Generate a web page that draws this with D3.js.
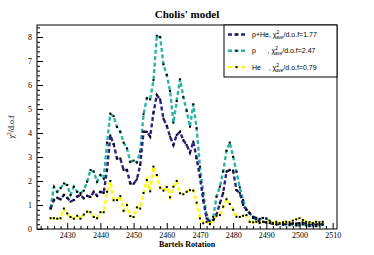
<!DOCTYPE html>
<html>
<head>
<meta charset="utf-8">
<script src="https://cdn.jsdelivr.net/npm/d3@7"></script>
<style>
  html, body { margin: 0; padding: 0; background: #fff; }
  svg { display: block; }
</style>
</head>
<body>
<div id="chart"></div>
<script>
// data (Bartels rotations 2425..2507)
const rotations = d3.range(2425, 2508);

const pHe = [0.85, 1.21, 1.3, 1.24, 1.42, 1.3, 1.14, 1.21, 1.35, 1.42,
  1.28, 1.38, 1.33, 1.55, 1.38, 1.55, 1.5, 2.46, 3.9, 3.54,
  2.94, 2.94, 2.46, 2.46, 1.9, 1.88, 2.07, 2.67, 4.05, 4.05,
  3.85, 4.85, 5.58, 5.4, 4.6, 4.3, 3.85, 3.5, 3.92, 4.05,
  3.7, 3.5, 3.18, 3.64, 2.94, 2.18, 1.2, 0.44, 0.3, 0.37,
  0.6, 1.07, 1.5, 2.39, 2.46, 2.43, 1.62, 1.5, 1.0, 0.8,
  0.66, 0.51, 0.46, 0.3, 0.3, 0.28, 0.25, 0.22, 0.2, 0.22,
  0.2, 0.22, 0.2, 0.25, 0.22, 0.25, 0.28, 0.22, 0.2, 0.22,
  0.2, 0.22, 0.2];

const pOnly = [0.86, 1.76, 1.55, 1.7, 1.9, 1.83, 1.42, 1.76, 1.55, 1.5,
  1.6, 1.97, 2.46, 2.39, 1.97, 2.25, 2.1, 3.6, 4.8, 4.7,
  4.25, 4.05, 3.6, 3.36, 2.8, 2.85, 2.77, 3.22, 4.78, 5.45,
  5.4, 6.2, 8.05, 8.0, 6.86, 6.42, 5.75, 4.43, 5.33, 6.24,
  5.49, 4.93, 4.26, 5.2, 4.2, 2.6, 1.49, 0.58, 0.24, 0.5,
  1.35, 1.76, 2.4, 3.26, 3.6, 3.01, 2.39, 1.74, 1.21, 0.8,
  0.66, 0.46, 0.4, 0.42, 0.46, 0.44, 0.3, 0.25, 0.2, 0.22,
  0.18, 0.2, 0.16, 0.2, 0.15, 0.15, 0.2, 0.15, 0.12, 0.15,
  0.12, 0.15, 0.18];

const heOnly = [0.45, 0.45, 0.43, 0.45, 0.85, 0.65, 0.5, 0.43, 0.55, 0.43,
  0.6, 0.72, 0.7, 0.5, 0.45, 0.7, 0.7, 1.55, 2.0, 1.2,
  1.2, 1.37, 0.76, 1.0, 0.54, 0.5, 0.9, 0.85, 1.5, 2.04,
  1.57, 2.6, 2.25, 1.72, 1.6, 1.75, 1.32, 1.76, 2.0, 1.49,
  1.45, 1.55, 1.62, 1.6, 1.1, 0.44, 0.24, 0.3, 0.2, 0.37,
  0.55, 0.58, 0.93, 1.24, 1.04, 0.8, 0.51, 0.5, 0.55, 0.58,
  0.3, 0.28, 0.3, 0.25, 0.3, 0.28, 0.35, 0.25, 0.3, 0.25,
  0.28, 0.3, 0.28, 0.35, 0.4, 0.45, 0.38, 0.3, 0.28, 0.25,
  0.3, 0.28, 0.3];

const seriesNames = ["p+He", "p", "He"];
const seriesChi = ["1.77", "2.47", "0.79"];
const xTicks = [2430, 2440, 2450, 2460, 2470, 2480, 2490, 2500, 2510];
const yTicks = [0, 1, 2, 3, 4, 5, 6, 7, 8];

// style
const W = 374, H = 255;
const COLORS = ["#2c2383", "#2cb3a2", "#ffff00"];
const SERIF = "'Liberation Serif', 'DejaVu Serif', serif";
const SANS = "'Liberation Sans', Arial, sans-serif";
const M = { left: 37, right: 337, top: 25, bottom: 229 };

const svg = d3.select("#chart").append("svg")
  .attr("width", W).attr("height", H);

const x = d3.scaleLinear().domain([2420.9, 2511.3]).range([M.left, M.right]);
const y = d3.scaleLinear().domain([0, 8.5]).range([M.bottom, M.top]);

// title
svg.append("text")
  .attr("x", 187).attr("y", 17.5)
  .attr("text-anchor", "middle")
  .attr("font-family", SERIF).attr("font-weight", "bold").attr("font-size", 11)
  .text("Cholis' model");

// series
const all = [pHe, pOnly, heOnly];
const line = d3.line()
  .x((d, i) => x(rotations[i]))
  .y(d => y(d));

// draw order: p first, then p+He, then He on top
[1, 0, 2].forEach(k => {
  const g = svg.append("g");
  g.append("path")
    .datum(all[k])
    .attr("d", line)
    .attr("fill", "none")
    .attr("stroke", COLORS[k])
    .attr("stroke-width", 2.4)
    .attr("stroke-dasharray", "4,2.5");
  g.selectAll("rect")
    .data(all[k])
    .enter().append("rect")
    .attr("x", (d, i) => x(rotations[i]) - 1)
    .attr("y", d => y(d) - 1)
    .attr("width", 2).attr("height", 2)
    .attr("fill", "#000");
});

// frame
svg.append("rect")
  .attr("x", M.left).attr("y", M.top)
  .attr("width", M.right - M.left).attr("height", M.bottom - M.top)
  .attr("fill", "none").attr("stroke", "#000").attr("stroke-width", 1);

// x axis (ticks inside)
const xMinor = d3.range(2422, 2512, 2).filter(v => v % 10 !== 0);
svg.append("g")
  .attr("transform", `translate(0,${M.bottom})`)
  .call(d3.axisBottom(x).tickValues(xMinor).tickSize(-3).tickFormat(""))
  .call(g => g.select(".domain").remove());
const xAx = svg.append("g")
  .attr("transform", `translate(0,${M.bottom})`)
  .call(d3.axisBottom(x).tickValues(xTicks).tickSize(-6).tickPadding(3).tickFormat(d3.format("d")));
xAx.select(".domain").remove();
xAx.selectAll("text").attr("font-family", SERIF).attr("font-size", 8).attr("fill", "#000");

// y axis (ticks inside)
const yMinor = d3.range(0, 8.5, 0.2).filter(v => Math.abs(v - Math.round(v)) > 0.01);
svg.append("g")
  .attr("transform", `translate(${M.left},0)`)
  .call(d3.axisLeft(y).tickValues(yMinor).tickSize(-3).tickFormat(""))
  .call(g => g.select(".domain").remove());
const yAx = svg.append("g")
  .attr("transform", `translate(${M.left},0)`)
  .call(d3.axisLeft(y).tickValues(yTicks).tickSize(-6).tickPadding(5).tickFormat(d3.format("d")));
yAx.select(".domain").remove();
yAx.selectAll("text").attr("font-family", SERIF).attr("font-size", 8).attr("fill", "#000");

// axis titles
svg.append("text")
  .attr("x", 187).attr("y", 246.5)
  .attr("text-anchor", "middle")
  .attr("font-family", SERIF).attr("font-weight", "bold").attr("font-size", 8)
  .text("Bartels Rotation");

const yl = svg.append("text")
  .attr("transform", "translate(14,127) rotate(-90)")
  .attr("text-anchor", "middle")
  .attr("font-family", SERIF).attr("font-size", 8);
yl.append("tspan").text("χ");
yl.append("tspan").attr("font-size", 5.5).attr("dy", -3).text("2");
yl.append("tspan").attr("dy", 3).text("/d.o.f");

// legend
const lg = svg.append("g");
lg.append("rect")
  .attr("x", 224).attr("y", M.top)
  .attr("width", M.right - 224).attr("height", 52)
  .attr("fill", "#fff").attr("stroke", "#000").attr("stroke-width", 1);

const labels = ["p+He, ", "p      , ", "He    , "];
seriesNames.forEach((name, k) => {
  const ry = 34.5 + k * 16.3;
  lg.append("line")
    .attr("x1", 228).attr("x2", 245).attr("y1", ry).attr("y2", ry)
    .attr("stroke", COLORS[k]).attr("stroke-width", 2.4)
    .attr("stroke-dasharray", "4,2.5");
  lg.append("rect")
    .attr("x", 235.5).attr("y", ry - 1).attr("width", 2).attr("height", 2)
    .attr("fill", "#000");
  const t = lg.append("text")
    .attr("x", 252).attr("y", ry + 2.5)
    .attr("font-family", SANS).attr("font-size", 7).attr("fill", "#000")
    .attr("xml:space", "preserve")
    .style("white-space", "pre");
  t.append("tspan").text(labels[k] + "χ");
  t.append("tspan").attr("font-size", 5).attr("dy", -3).text("2");
  t.append("tspan").attr("font-size", 4.5).attr("dx", -3).attr("dy", 5).text("ave");
  t.append("tspan").attr("dy", -2).text("/d.o.f=" + seriesChi[k]);
});
</script>
</body>
</html>
